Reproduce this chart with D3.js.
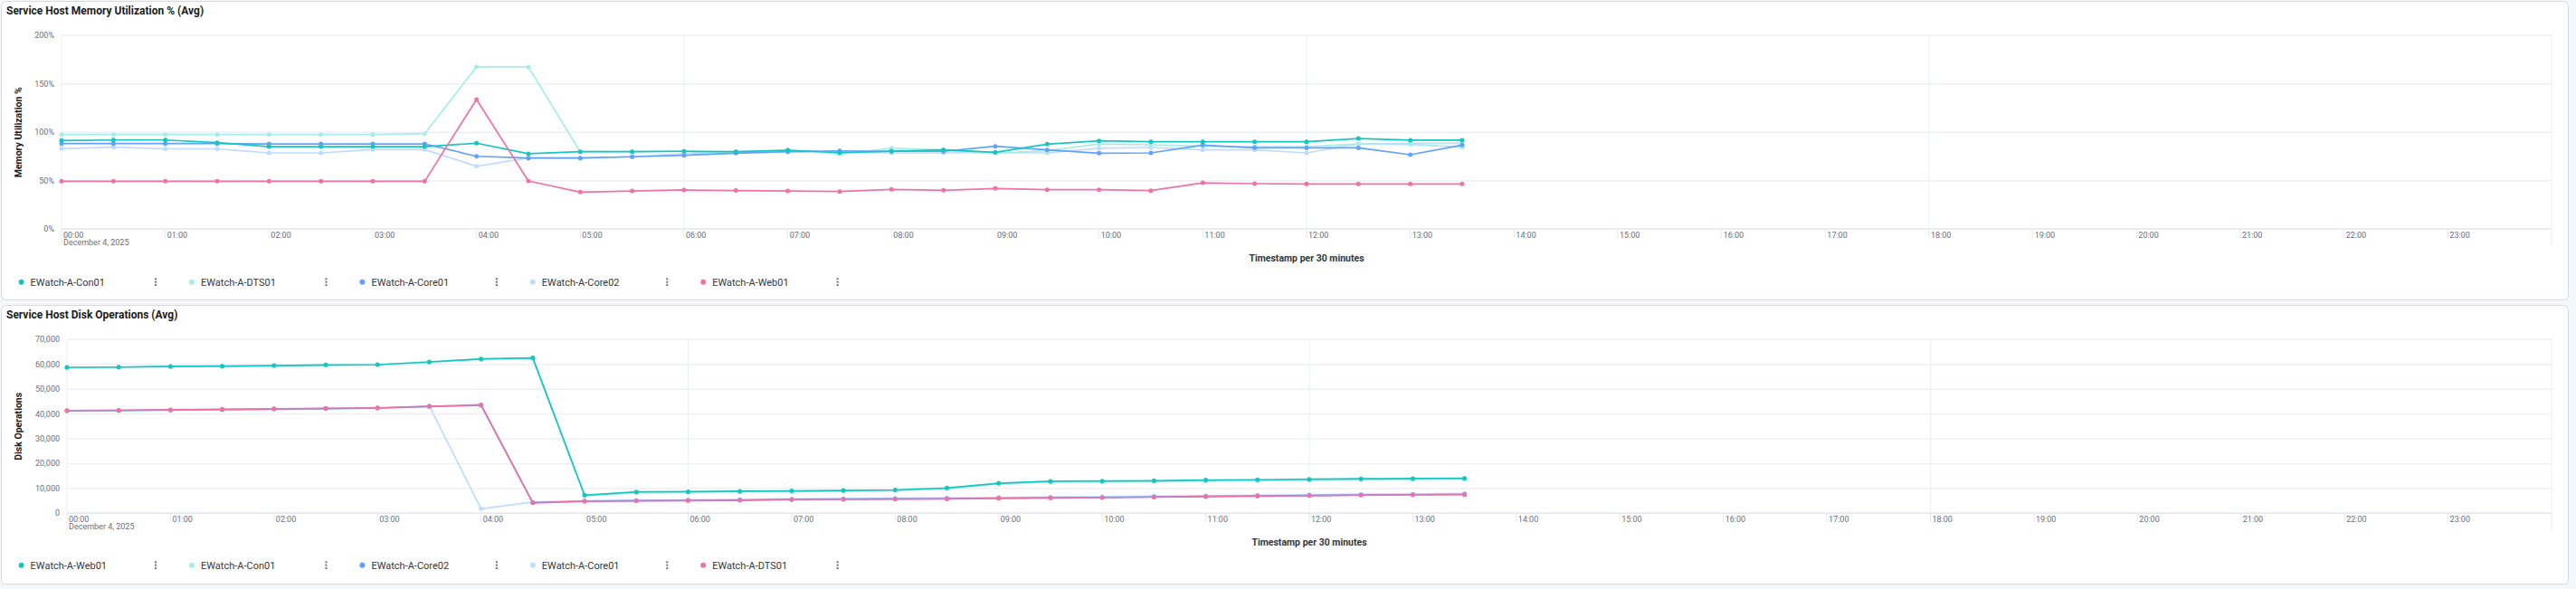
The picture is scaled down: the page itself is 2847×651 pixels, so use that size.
<!DOCTYPE html>
<html>
<head>
<meta charset="utf-8">
<script src="https://cdn.jsdelivr.net/npm/d3@7"></script>
<style>
  body { margin: 0; background: #f5f7fb; font-family: Roboto, "Noto Sans", sans-serif; }
  svg { display: block; }
</style>
</head>
<body>
<svg id="chart" width="2847" height="651"></svg>
<script>
// half-hour buckets on December 4, 2025
var timestamps = ["00:00","00:30","01:00","01:30","02:00","02:30","03:00","03:30","04:00","04:30",
  "05:00","05:30","06:00","06:30","07:00","07:30","08:00","08:30","09:00","09:30",
  "10:00","10:30","11:00","11:30","12:00","12:30","13:00","13:30"]

// Memory Utilization % (Avg)
var memCon01  = [91.6, 92.1, 92.1, 89.4, 85.3, 85.3, 85.3, 85.3, 88.8, 77.9, 80.0, 80.0, 80.4, 80.0, 81.6, 79.0, 80.6, 81.9, 79.4, 87.8, 91.2, 90.3, 90.3, 90.3, 90.3, 93.7, 91.9, 91.9]
var memDts01  = [97.8, 97.8, 97.8, 97.8, 97.8, 97.8, 97.8, 98.7, 167.6, 167.6, 80.0, 80.0, 80.7, 79.0, 81.8, 77.6, 83.7, 81.9, 78.5, 81.0, 88.1, 87.2, 85.6, 85.3, 85.3, 88.1, 87.5, 84.7]
var memCore01 = [88.4, 88.4, 88.4, 88.4, 88.1, 88.1, 88.1, 88.1, 75.3, 73.5, 73.5, 74.8, 76.3, 78.5, 80.0, 80.9, 80.4, 80.4, 85.6, 81.9, 78.5, 78.8, 86.9, 84.1, 84.0, 84.0, 76.9, 86.9]
var memCore02 = [83.2, 84.7, 83.0, 83.0, 78.8, 78.8, 82.2, 82.2, 65.0, 73.5, 73.5, 74.8, 77.9, 80.0, 80.0, 79.4, 78.8, 78.8, 79.1, 78.8, 83.5, 84.4, 81.9, 81.9, 78.8, 88.1, 88.7, 88.7]
var memWeb01  = [49.5, 49.5, 49.5, 49.5, 49.5, 49.5, 49.5, 49.5, 134.0, 49.8, 38.3, 39.5, 40.5, 39.9, 39.5, 38.9, 41.1, 40.2, 42.0, 40.8, 40.8, 39.8, 47.9, 47.0, 46.7, 46.7, 46.7, 46.7]
var memTicks  = [0, 50, 100, 150, 200]

// Disk Operations (Avg)
var diskWeb01  = [58800, 58900, 59200, 59300, 59500, 59800, 59900, 61000, 62200, 62600, 7300, 8600, 8700, 8900, 9000, 9200, 9400, 10200, 12100, 12900, 13000, 13100, 13400, 13500, 13700, 13900, 14000, 14100]
var diskCon01  = [58600, 58800, 59000, 59200, 59400, 59600, 59800, 60800, 62000, 62400, 7100, 8300, 8400, 8600, 8700, 8900, 9100, 9900, 11800, 12500, 12600, 12800, 13000, 13100, 13300, 13500, 13600, 13800]
var diskCore02 = [41300, 41400, 41600, 41800, 42000, 42200, 42400, 43000, 43500, 4300, 4900, 5100, 5200, 5300, 5600, 5700, 5800, 5900, 6100, 6300, 6400, 6600, 6800, 7000, 7200, 7400, 7500, 7600]
var diskCore01 = [41200, 41300, 41500, 41700, 41900, 42100, 42300, 43300, 1800, 4500, 5000, 5200, 5400, 5600, 5800, 5900, 6100, 6200, 6400, 6500, 6700, 6900, 7100, 7300, 7500, 7700, 7800, 8000]
var diskDts01  = [41400, 41500, 41700, 41900, 42100, 42300, 42500, 43100, 43700, 4200, 4800, 5000, 5100, 5200, 5500, 5600, 5700, 5800, 6000, 6200, 6300, 6500, 6700, 6900, 7100, 7300, 7400, 7500]
var diskTicks  = [0, 10000, 20000, 30000, 40000, 50000, 60000, 70000]

var teal = "#16c5c0", lightTeal = "#a6edea", blue = "#61a2ff", lightBlue = "#bfdbff", pink = "#ee72a6"

var parseT = d3.timeParse("%Y-%m-%d %H:%M")
var dayStart = parseT("2025-12-04 00:00"), dayEnd = parseT("2025-12-05 00:00")

var svg = d3.select("#chart")

function drawPanel(cfg) {
    var g = svg.append("g")

    g.append("rect")
        .attr("x", 1.5).attr("y", cfg.top + 0.5)
        .attr("width", 2837).attr("height", cfg.height)
        .attr("rx", 5)
        .style("fill", "#fff").style("stroke", "#d3dae6")

    g.append("text")
        .attr("x", 7).attr("y", cfg.top + 14.5)
        .text(cfg.title)
        .style("font-size", "12px").style("font-weight", "bold").style("fill", "#1a1c21")

    var x = d3.scaleTime().domain([dayStart, dayEnd]).range([cfg.left, 2820])
    var y = d3.scaleLinear().domain([0, cfg.max]).range([cfg.bottom, cfg.plotTop])

    // horizontal grid
    g.append("g").selectAll("line")
        .data(cfg.ticks)
        .enter()
        .append("line")
        .attr("x1", cfg.left).attr("x2", 2820)
        .attr("y1", d => y(d)).attr("y2", d => y(d))
        .style("stroke", "#edf0f6").style("stroke-width", 1.5)

    // vertical grid every 6 hours
    g.append("g").selectAll("line")
        .data(d3.timeHour.every(6).range(dayStart, d3.timeHour.offset(dayEnd, 1)))
        .enter()
        .append("line")
        .attr("x1", d => x(d)).attr("x2", d => x(d))
        .attr("y1", cfg.plotTop).attr("y2", cfg.bottom)
        .style("stroke", "#edf0f6").style("stroke-width", 1)

    g.append("line")
        .attr("x1", cfg.left).attr("x2", 2820)
        .attr("y1", cfg.bottom).attr("y2", cfg.bottom)
        .style("stroke", "#e3e8f2").style("stroke-width", 1.5)

    // y ticks
    g.append("g").selectAll("text")
        .data(cfg.ticks)
        .enter()
        .append("text")
        .attr("x", cfg.left - 8)
        .attr("y", d => y(d) + 3)
        .text(cfg.fmt)
        .style("text-anchor", "end").style("font-size", "9px").style("fill", "#69707d")

    // x ticks, every hour
    var hours = d3.timeHour.every(1).range(dayStart, d3.timeHour.offset(dayEnd, 1))
    g.append("g").selectAll("line")
        .data(hours)
        .enter()
        .append("line")
        .attr("x1", d => x(d)).attr("x2", d => x(d))
        .attr("y1", cfg.bottom)
        .attr("y2", (d, i) => (i == 0 || i == 24) ? cfg.bottom + 18 : cfg.bottom + 10)
        .style("stroke", "#e3e8f2").style("stroke-width", 1)

    g.append("g").selectAll("text")
        .data(hours.slice(0, 24))
        .enter()
        .append("text")
        .attr("x", d => x(d) + 2)
        .attr("y", cfg.bottom + 10)
        .text(d3.timeFormat("%H:%M"))
        .style("font-size", "9px").style("fill", "#69707d")

    g.append("text")
        .attr("x", x(dayStart) + 2).attr("y", cfg.bottom + 18)
        .text("December 4, 2025")
        .style("font-size", "9px").style("fill", "#69707d")

    // axis titles
    g.append("text")
        .attr("transform", "translate(" + 23.5 + "," + ((cfg.plotTop + cfg.bottom) / 2) + ") rotate(-90)")
        .text(cfg.yTitle)
        .style("text-anchor", "middle").style("font-size", "10.5px").style("font-weight", "bold").style("fill", "#1a1c21")

    g.append("text")
        .attr("x", (cfg.left + 2820) / 2).attr("y", cfg.bottom + 35.5)
        .text("Timestamp per 30 minutes")
        .style("text-anchor", "middle").style("font-size", "10.5px").style("font-weight", "bold").style("fill", "#343741")

    // lines + points
    var line = d3.line()
        .x((d, i) => x(parseT("2025-12-04 " + timestamps[i])))
        .y(d => y(d))

    cfg.drawOrder.forEach(k => {
        var s = cfg.series[k]
        g.append("path")
            .datum(s.values)
            .attr("d", line)
            .style("fill", "none").style("stroke", s.color).style("stroke-width", 1.7)
            .style("stroke-linejoin", "round")
        g.append("g").selectAll("circle")
            .data(s.values)
            .enter()
            .append("circle")
            .attr("cx", (d, i) => x(parseT("2025-12-04 " + timestamps[i])))
            .attr("cy", d => y(d))
            .attr("r", 2.5)
            .style("fill", s.color)
    })

    // legend
    var lg = g.append("g").selectAll("g")
        .data(cfg.series)
        .enter()
        .append("g")
        .attr("transform", (d, i) => "translate(" + (23.6 + i * 188.4) + "," + cfg.legendY + ")")
    lg.append("circle").attr("r", 3).style("fill", d => d.color)
    lg.append("text")
        .attr("x", 10).attr("y", 4)
        .text(d => d.name)
        .style("font-size", "11px").style("fill", "#343741")
    ;[-3.4, 0, 3.4].forEach(dy => {
        lg.append("rect")
            .attr("x", 147.5).attr("y", dy - 1)
            .attr("width", 2).attr("height", 2)
            .style("fill", "#6a717d")
    })
}

drawPanel({
    top: 1, height: 330, title: "Service Host Memory Utilization % (Avg)",
    left: 68, plotTop: 39.3, bottom: 253.3, max: 200, ticks: memTicks,
    fmt: d => d + "%", yTitle: "Memory Utilization %", legendY: 311.7,
    series: [
        {name: "EWatch-A-Con01", color: teal, values: memCon01},
        {name: "EWatch-A-DTS01", color: lightTeal, values: memDts01},
        {name: "EWatch-A-Core01", color: blue, values: memCore01},
        {name: "EWatch-A-Core02", color: lightBlue, values: memCore02},
        {name: "EWatch-A-Web01", color: pink, values: memWeb01}
    ],
    drawOrder: [3, 1, 2, 0, 4]
})

drawPanel({
    top: 337, height: 308, title: "Service Host Disk Operations (Avg)",
    left: 74, plotTop: 375.3, bottom: 567.3, max: 70000, ticks: diskTicks,
    fmt: d3.format(","), yTitle: "Disk Operations", legendY: 624.7,
    series: [
        {name: "EWatch-A-Web01", color: teal, values: diskWeb01},
        {name: "EWatch-A-Con01", color: lightTeal, values: diskCon01},
        {name: "EWatch-A-Core02", color: blue, values: diskCore02},
        {name: "EWatch-A-Core01", color: lightBlue, values: diskCore01},
        {name: "EWatch-A-DTS01", color: pink, values: diskDts01}
    ],
    drawOrder: [3, 1, 0, 2, 4]
})
</script>
</body>
</html>
